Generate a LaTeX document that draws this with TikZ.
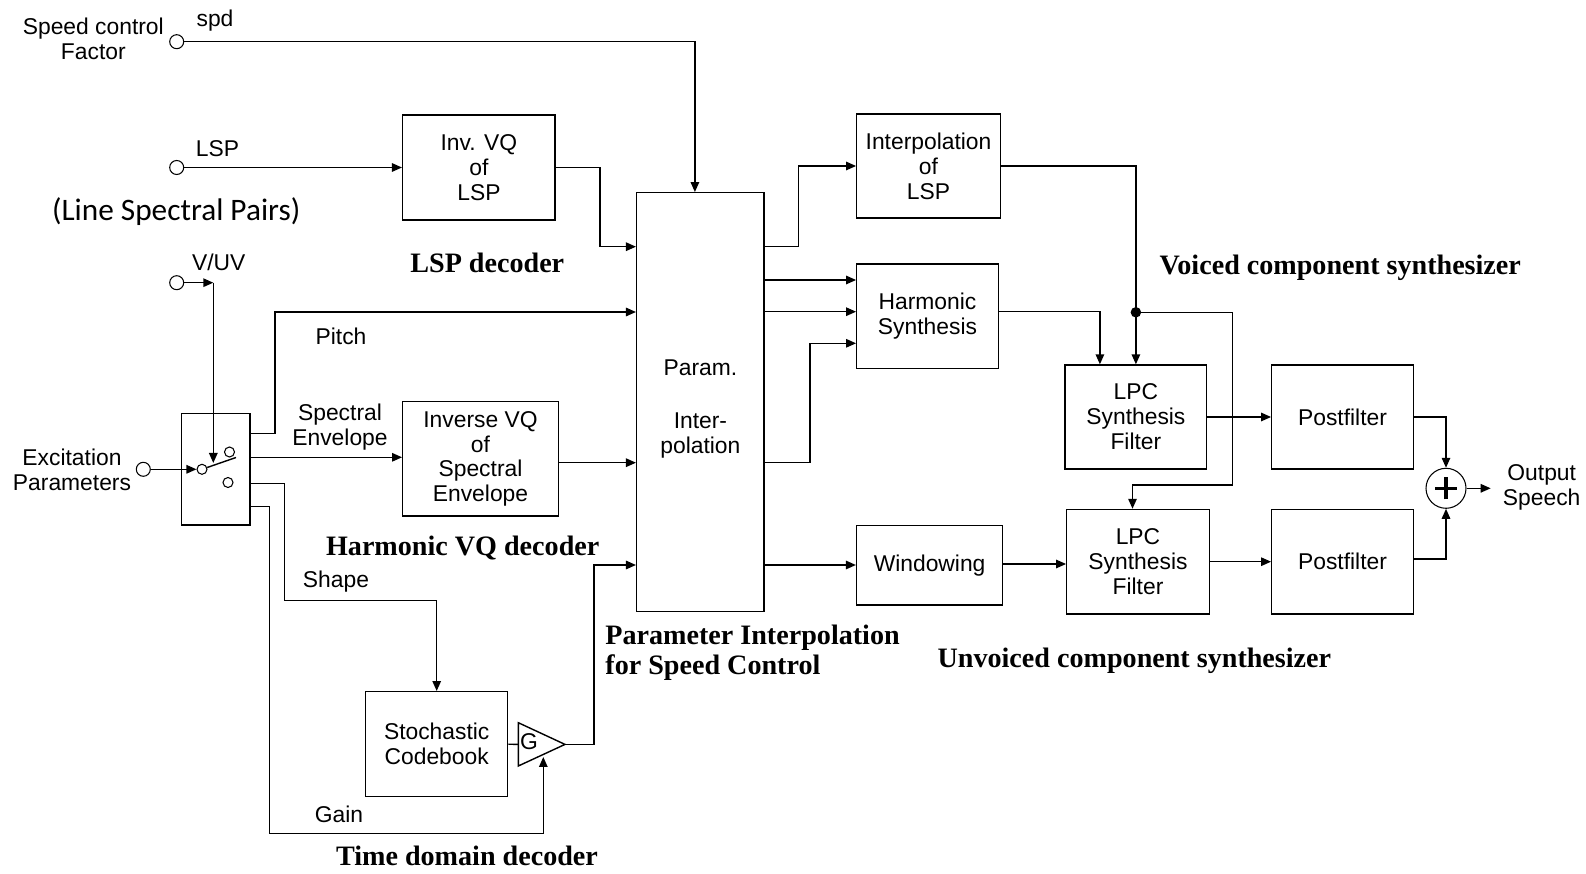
\documentclass[tikz,border=0pt]{standalone}
\usepackage{fontspec}
\setmainfont{Liberation Sans}
\newfontfamily\tmsfont{Liberation Serif}
\newfontfamily\clbfont{Carlito}
\usetikzlibrary{arrows.meta,calc}
\newcommand{\blktxt}{\fontsize{13}{14.2}\selectfont}
\newcommand{\ttltxt}{\tmsfont\bfseries\fontsize{16}{17}\selectfont}
\tikzset{
  >={Triangle[length=2mm,width=1.7mm]},
  blk/.style={draw,line width=0.8pt,align=center,inner sep=2pt,font=\blktxt},
  term/.style={circle,draw,line width=0.6pt,minimum size=2.8mm,inner sep=0pt},
  cnt/.style={circle,draw,line width=0.6pt,minimum size=2mm,inner sep=0pt},
  sig/.style={line width=0.8pt},
  lbl/.style={font=\blktxt,align=center,inner sep=1pt},
  ttl/.style={font=\ttltxt,align=left,inner sep=1pt},
}

\begin{document}
\begin{tikzpicture}[x=0.02cm,y=-0.02cm]
  \useasboundingbox (0,0) rectangle (1586,874);
  % input terminals
  \node[term] (spdin) at (176.7,41.7) {};
  \node[term] (lspin) at (176.7,167.5) {};
  \node[term] (vuvin) at (176.7,282.7) {};
  \node[term] (excin) at (143.3,469.3) {};
  \node[lbl] (spdtxt) at (93.3,38.6) {Speed control\\Factor};
  \node[lbl] (spdlbl) at (215,21) {spd};
  \node[lbl] (lsplbl) at (217.5,148.3) {LSP};
  \node[font=\clbfont\fontsize{17.8}{20}\selectfont] (lsplong) at (176.2,212) {(Line Spectral Pairs)};
  \node[lbl] (vuvlbl) at (218.8,262) {V/UV};
  \node[lbl] (exctxt) at (72,470) {Excitation\\Parameters};

  % switch
  \node[draw,line width=0.8pt,minimum width=1.37cm,minimum height=2.23cm] (sw) at (215.9,469.2) {};
  \node[cnt] (pivot) at (202,469.3) {};
  \node[cnt] (conta) at (229.5,452) {};
  \node[cnt] (contb) at (228,482.5) {};
  \coordinate (armend) at (236,457.5);
  \coordinate (vuvc) at (213.3,282.7);
  \coordinate (armtop) at (213.3,463);
  \draw[sig] (pivot) -- (armend);

  % blocks
  \node[blk,minimum width=3.05cm,minimum height=2.1cm] (invlsp) at (478.9,167.5) {Inv. VQ\\of\\LSP};
  \node[blk,minimum width=3.11cm,minimum height=2.29cm] (invspec) at (480.5,458.9) {Inverse VQ\\of\\Spectral\\Envelope};
  \node[blk,minimum width=2.55cm,minimum height=8.38cm] (param) at (700.4,402.2) {};
  \node[lbl] (paramtxt) at (700.4,409) {Param.\\[16pt]Inter-\\polation};
  \node[blk,minimum width=2.87cm,minimum height=2.08cm] (interp) at (928.5,166) {Interpolation\\of\\LSP};
  \node[blk,minimum width=2.83cm,minimum height=2.09cm] (harm) at (927.5,316.2) {Harmonic\\Synthesis};
  \node[blk,minimum width=2.92cm,minimum height=1.59cm] (window) at (929.6,565.4) {Windowing};
  \node[blk,minimum width=2.83cm,minimum height=2.08cm] (lpcv) at (1135.9,417) {LPC\\Synthesis\\Filter};
  \node[blk,minimum width=2.85cm,minimum height=2.09cm] (lpcu) at (1138,561.7) {LPC\\Synthesis\\Filter};
  \node[blk,minimum width=2.83cm,minimum height=2.08cm] (postv) at (1342.5,417) {Postfilter};
  \node[blk,minimum width=2.83cm,minimum height=2.09cm] (postu) at (1342.5,561.7) {Postfilter};
  \node[blk,minimum width=2.84cm,minimum height=2.1cm] (codebk) at (436.7,744.2) {Stochastic\\Codebook};
  \node[circle,draw,line width=0.6pt,minimum size=0.8cm,inner sep=0pt] (adder) at (1446,488.3) {};
  \draw[line width=1.8pt] ([xshift=-0.22cm]adder.center) -- ([xshift=0.22cm]adder.center)
    ([yshift=-0.22cm]adder.center) -- ([yshift=0.22cm]adder.center);

  % gain amplifier
  \coordinate (gin) at (518.3,744.4);
  \coordinate (gout) at (565,744.4);
  \coordinate (gtip) at (543.3,757);
  \draw[sig] (518.3,722.7) -- (gout) -- (518.3,766) -- cycle;
  \node[lbl] (glbl) at (529,742) {G};

  % connectors
  \draw[sig,->] (spdin) -| ([xshift=-0.11cm]param.north);
  \draw[sig,->] (lspin) -- (invlsp);
  \draw[sig,->] (invlsp.east) -| (600,246.7) -- (param.west |- 0,246.7);
  \draw[sig,->] (vuvin) -- (vuvc);
  \draw[sig,->] (vuvc) -- (armtop);
  \draw[sig,->] (excin) -- (pivot);
  \draw[sig,->] (sw.east |- 0,433.3) -| (275,312) -- (param.west |- 0,312);
  \draw[sig,->] (sw.east |- 0,457.3) -- (invspec.west |- 0,457.3);
  \draw[sig,->] (sw.east |- 0,483.3) -| (284.3,600.7) -| (codebk.north);
  \draw[sig,->] (sw.east |- 0,506.7) -| (269.3,833.3) -| (gtip);
  \draw[sig,->] (invspec.east |- 0,462.7) -- (param.west |- 0,462.7);
  \draw[sig] (codebk.east) -- (gin);
  \draw[sig,->] (gout) -| (594,565) -- (param.west |- 0,565);
  \draw[sig,->] (param.east |- 0,246.7) -| (798.7,166) -- (interp.west);
  \draw[sig,->] (param.east |- 0,280) -- (harm.west |- 0,280);
  \draw[sig,->] (param.east |- 0,311.7) -- (harm.west |- 0,311.7);
  \draw[sig,->] (param.east |- 0,462.7) -| (810,343.3) -- (harm.west |- 0,343.3);
  \draw[sig,->] (param.east |- 0,565) -- (window.west |- 0,565);
  \draw[sig,->] (interp.east) -| (lpcv.north);
  \coordinate (jn) at (lpcv.north |- 0,312.3);
  \fill (jn) circle[radius=3pt];
  \draw[sig,->] (jn) -| (1232.3,485) -| ([xshift=-0.11cm]lpcu.north);
  \draw[sig,->] (harm.east |- 0,311.7) -| ([xshift=-0.72cm]lpcv.north);
  \draw[sig,->] (window.east |- 0,564) -- (lpcu.west |- 0,564);
  \draw[sig,->] (lpcv) -- (postv);
  \draw[sig,->] (lpcu) -- (postu);
  \draw[sig,->] (postv) -| (adder.north);
  \draw[sig,->] (postu.east |- 0,559) -| (adder.south);
  \coordinate (outtip) at (1490.7,488.3);
  \draw[sig,->] (adder) -- (outtip);
  \node[lbl] (outtxt) at (1541.7,487.5) {Output\\Speech};

  % signal labels
  \node[lbl] (pitchlbl) at (341,336) {Pitch};
  \node[lbl] (speclbl) at (340,426.7) {Spectral\\Envelope};
  \node[lbl] (shapelbl) at (336,581.7) {Shape};
  \node[lbl] (gainlbl) at (339,814) {Gain};

  % section titles
  \node[ttl] (lspdec) at (487.3,262.7) {LSP decoder};
  \node[ttl] (hvqdec) at (462.7,548.3) {Harmonic VQ decoder};
  \node[ttl] (tddec) at (467,856) {Time domain decoder};
  \node[ttl,anchor=west] (pisc) at (603.3,653) {Parameter Interpolation\\for Speed Control};
  \node[ttl] (vcs) at (1340.3,268) {Voiced component synthesizer};
  \node[ttl] (ucs) at (1134.4,660.5) {Unvoiced component synthesizer};
\end{tikzpicture}
\end{document}
